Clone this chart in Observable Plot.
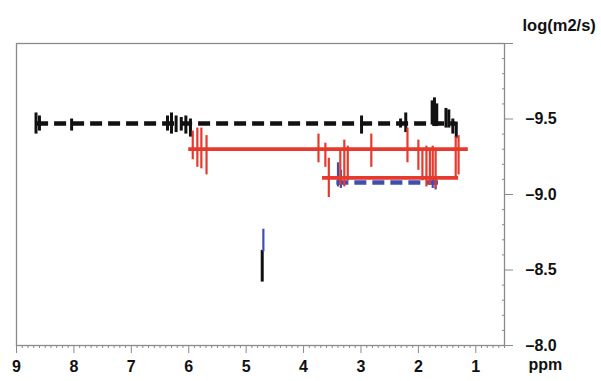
<!DOCTYPE html>
<html><head><meta charset="utf-8">
<script src="https://cdn.jsdelivr.net/npm/d3@7"></script>
<script src="https://cdn.jsdelivr.net/npm/@observablehq/plot@0.6"></script>
<style>body{margin:0;background:#fff}</style>
</head><body><div id="chart"></div>
<script>
// Horizontal diffusion lines (ppm range and log D)
const lineNames = ["black", "redUpper", "redLower", "blue"];
const lineStart = [8.65, 6.00, 3.67, 3.42];
const lineEnd   = [1.35, 1.13, 1.30, 1.65];
const lineLog   = [-9.47, -9.30, -9.11, -9.08];

// Peak traces (ppm, top and bottom of the vertical spread in log D)
const blackPpm    = [8.66, 8.60, 8.04, 6.37, 6.30, 6.22, 6.13, 6.05, 5.97, 2.99, 2.31, 2.22, 1.76, 1.72, 1.68, 1.52, 1.47, 1.40, 1.34, 4.72];
const blackTop    = [-9.54, -9.52, -9.50, -9.52, -9.54, -9.52, -9.51, -9.52, -9.50, -9.52, -9.50, -9.54, -9.62, -9.64, -9.60, -9.57, -9.56, -9.50, -9.48, -8.63];
const blackBottom = [-9.40, -9.42, -9.42, -9.42, -9.40, -9.41, -9.42, -9.40, -9.38, -9.40, -9.44, -9.41, -9.46, -9.45, -9.45, -9.44, -9.44, -9.40, -9.37, -8.42];

const redPpm    = [5.93, 5.85, 5.78, 5.69, 3.74, 3.62, 3.56, 3.36, 3.29, 3.23, 2.82, 2.19, 2.00, 1.93, 1.86, 1.80, 1.75, 1.70, 1.35, 1.30];
const redTop    = [-9.42, -9.44, -9.44, -9.39, -9.40, -9.34, -9.24, -9.29, -9.36, -9.32, -9.40, -9.44, -9.36, -9.29, -9.32, -9.29, -9.32, -9.29, -9.38, -9.39];
const redBottom = [-9.23, -9.18, -9.17, -9.13, -9.21, -9.18, -8.98, -9.06, -9.05, -9.09, -9.18, -9.21, -9.16, -9.09, -9.05, -9.06, -9.09, -9.04, -9.11, -9.13];

const bluePpm    = [3.40, 3.35, 1.75, 1.70, 4.70];
const blueTop    = [-9.21, -9.16, -9.11, -9.11, -8.77];
const blueBottom = [-9.05, -9.04, -9.04, -9.03, -8.62];

// Axis ticks
const xMajor = [9, 8, 7, 6, 5, 4, 3, 2, 1];
const yMajor = [-10, -9.5, -9.0, -8.5, -8.0];
const xMinor = d3.range(5, 91).map(i => i / 10).filter(v => Math.abs(v - Math.round(v)) > 1e-6);
const yMinor = d3.range(-100, -79).map(i => i / 10).filter(v => Math.abs(v * 2 - Math.round(v * 2)) > 1e-6);

const lines = lineNames.map((s, i) => ({series: s, start: lineStart[i], end: lineEnd[i], log: lineLog[i]}));
const peaks = (p, t, b) => p.map((v, i) => ({ppm: v, top: t[i], bottom: b[i]}));
const blackPeaks = peaks(blackPpm, blackTop, blackBottom);
const redPeaks = peaks(redPpm, redTop, redBottom);
const bluePeaks = peaks(bluePpm, blueTop, blueBottom);

const RED = "#e63a2e", BLUE = "#3f4fae", BLACK = "#111", GRAY = "#8a8a8a";
const font = "'Liberation Sans', Arial, Helvetica, sans-serif";

const plot = Plot.plot({
  width: 601, height: 381,
  marginLeft: 16, marginRight: 97, marginTop: 43, marginBottom: 36,
  style: {fontFamily: font, background: "white", overflow: "visible"},
  x: {domain: [9, 0.5], label: null},
  y: {domain: [-10, -8], reverse: true, label: null},
  marks: [
    Plot.frame({stroke: GRAY, strokeWidth: 1.3}),
    Plot.axisX({ticks: xMinor, tickSize: 3, tickFormat: () => "", stroke: GRAY, label: null}),
    Plot.axisX({ticks: xMajor, tickSize: 8, tickPadding: 7, tickFormat: d => String(d),
      stroke: GRAY, fill: BLACK, fontSize: 16, fontWeight: "bold", label: null}),
    Plot.axisY({anchor: "right", ticks: yMinor, tickSize: 3, dx: -3, tickFormat: () => "", stroke: GRAY, label: null}),
    Plot.axisY({anchor: "right", ticks: yMajor, tickSize: 8, tickPadding: 13,
      tickFormat: d => d === -10 ? "" : "\u2013" + Math.abs(d).toFixed(1),
      stroke: GRAY, fill: BLACK, fontSize: 16, fontWeight: "bold", textAnchor: "start", label: null}),
    // black series
    Plot.ruleY(lines.filter(d => d.series === "black"), {y: "log", x1: "start", x2: "end", stroke: BLACK, strokeWidth: 4.5, strokeDasharray: "12,6"}),
    Plot.ruleX(blackPeaks, {x: "ppm", y1: "top", y2: "bottom", stroke: BLACK, strokeWidth: 3}),
    // blue series
    Plot.ruleY(lines.filter(d => d.series === "blue"), {y: "log", x1: "start", x2: "end", stroke: BLUE, strokeWidth: 4.5, strokeDasharray: "12,6"}),
    Plot.ruleX(bluePeaks, {x: "ppm", y1: "top", y2: "bottom", stroke: BLUE, strokeWidth: 2.2}),
    // red series
    Plot.ruleY(lines.filter(d => d.series.startsWith("red")), {y: "log", x1: "start", x2: "end", stroke: RED, strokeWidth: 3.8}),
    Plot.ruleX(redPeaks, {x: "ppm", y1: "top", y2: "bottom", stroke: RED, strokeWidth: 2.2}),
    // axis titles
    Plot.text(["log(m2/s)"], {frameAnchor: "top-right", dx: 18, dy: -24, textAnchor: "start", fontSize: 16.5, fontWeight: "bold", fill: BLACK}),
    Plot.text(["ppm"], {frameAnchor: "bottom-right", dx: 24, dy: 24, textAnchor: "start", fontSize: 16, fontWeight: "bold", fill: BLACK})
  ]
});
document.getElementById("chart").appendChild(plot);
</script>
</body></html>
